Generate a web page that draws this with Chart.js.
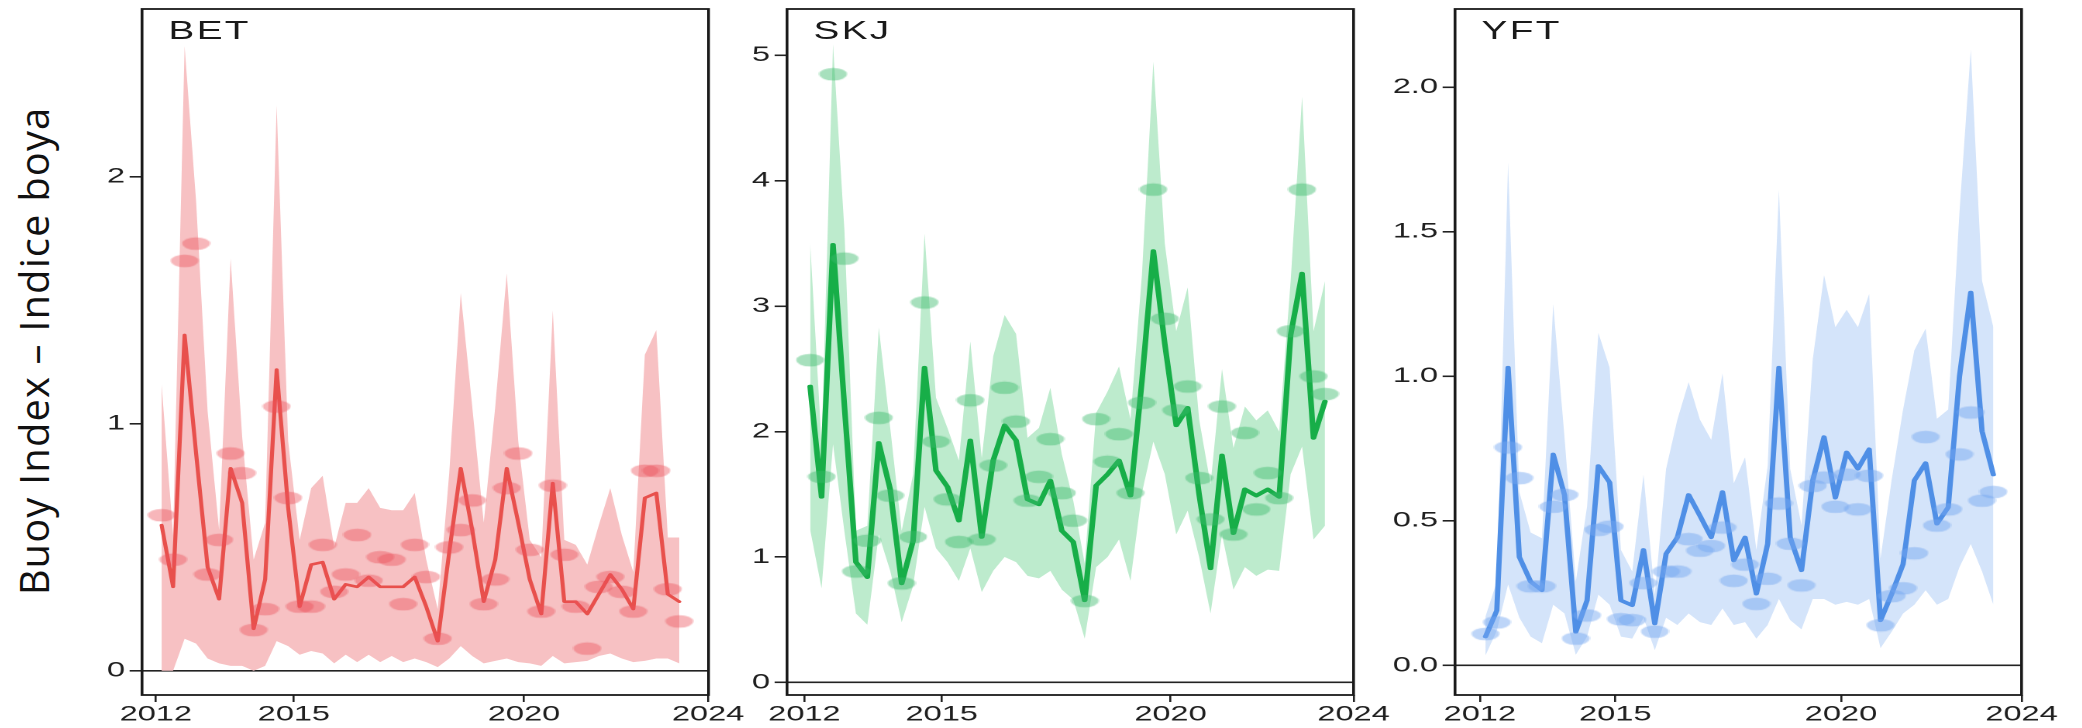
<!DOCTYPE html>
<html>
<head>
<meta charset="utf-8">
<script src="https://cdn.jsdelivr.net/npm/chart.js@4.4.1/dist/chart.umd.min.js"></script>
<style>
  html, body { margin: 0; padding: 0; background: #fff; }
  body { width: 2082px; height: 728px; position: relative; overflow: hidden; }
  .panel { position: absolute; top: 0; width: 440px; height: 728px; transform-origin: 0 0; transform: scaleX(1.55); }
  .panel canvas { position: absolute; left: 0; top: 0; }
  .tag { position: absolute; top: 18px; left: 65.5px; font: 25px "Liberation Sans", Arial, sans-serif; line-height: 25px; letter-spacing: 1.5px; color: #1a1a1a; }
  #ytitle { position: absolute; left: 33.5px; top: 350.5px; transform: translate(-50%, -50%) rotate(-90deg);
            font: 40px "Open Sans", sans-serif; line-height: 40px; letter-spacing: 1.1px; white-space: nowrap; color: #111; }
</style>
</head>
<body>
<div id="ytitle">Buoy Index – Indice boya</div>
<div class="panel" style="left:66.5px"><canvas id="bet" width="440" height="728"></canvas><div class="tag">BET</div></div>
<div class="panel" style="left:712px"><canvas id="skj" width="440" height="728"></canvas><div class="tag">SKJ</div></div>
<div class="panel" style="left:1380px"><canvas id="yft" width="440" height="728"></canvas><div class="tag">YFT</div></div>

<script>
// quarterly time steps
const quarters = [
  '2012 Q1','2012 Q2','2012 Q3','2012 Q4','2013 Q1','2013 Q2','2013 Q3','2013 Q4',
  '2014 Q1','2014 Q2','2014 Q3','2014 Q4','2015 Q1','2015 Q2','2015 Q3','2015 Q4',
  '2016 Q1','2016 Q2','2016 Q3','2016 Q4','2017 Q1','2017 Q2','2017 Q3','2017 Q4',
  '2018 Q1','2018 Q2','2018 Q3','2018 Q4','2019 Q1','2019 Q2','2019 Q3','2019 Q4',
  '2020 Q1','2020 Q2','2020 Q3','2020 Q4','2021 Q1','2021 Q2','2021 Q3','2021 Q4',
  '2022 Q1','2022 Q2','2022 Q3','2022 Q4','2023 Q1','2023 Q2'
];
const yearTicks = [2012, 2015, 2020, 2024];

// BET
const betEst = [0.59,0.34,1.36,0.88,0.42,0.29,0.82,0.68,0.17,0.37,1.22,0.66,0.26,0.43,0.44,0.29,0.35,0.34,0.38,0.34,0.34,0.34,0.38,0.26,0.12,0.48,0.82,0.57,0.28,0.45,0.82,0.60,0.37,0.23,0.76,0.28,0.28,0.23,0.31,0.39,0.33,0.25,0.70,0.72,0.31,0.28];
const betObs = [0.63,0.45,1.66,1.73,0.39,0.53,0.88,0.80,0.165,0.25,1.07,0.70,0.26,0.26,0.51,0.32,0.39,0.55,0.365,0.46,0.45,0.27,0.51,0.38,0.13,0.50,0.57,0.69,0.27,0.37,0.74,0.88,0.49,0.24,0.75,0.47,0.26,0.09,0.34,0.38,0.32,0.24,0.81,0.81,0.33,0.20];
const betHi  = [1.16,0.55,2.53,1.90,1.05,0.57,1.67,0.95,0.45,0.60,2.29,0.93,0.53,0.74,0.79,0.50,0.68,0.68,0.74,0.66,0.65,0.65,0.72,0.45,0.25,0.80,1.53,1.07,0.60,1.07,1.61,0.93,0.53,0.46,1.46,0.53,0.51,0.43,0.59,0.74,0.55,0.40,1.28,1.38,0.54,0.54];
const betLo  = [0.00,0.00,0.13,0.11,0.05,0.03,0.02,0.02,0.00,0.02,0.12,0.10,0.065,0.08,0.07,0.03,0.065,0.035,0.065,0.035,0.06,0.035,0.05,0.035,0.015,0.05,0.10,0.06,0.03,0.04,0.05,0.035,0.03,0.02,0.06,0.03,0.035,0.04,0.06,0.07,0.05,0.035,0.04,0.05,0.05,0.03];
const betTicks = [0, 1, 2];
const betLabels = ['0', '1', '2'];

// SKJ
const skjEst = [2.36,1.48,3.49,2.20,0.96,0.84,1.91,1.54,0.79,1.13,2.51,1.69,1.56,1.29,1.93,1.16,1.77,2.05,1.93,1.46,1.42,1.61,1.21,1.12,0.655,1.57,1.66,1.77,1.49,2.40,3.44,2.70,2.05,2.19,1.50,0.91,1.81,1.19,1.54,1.49,1.54,1.48,2.77,3.26,1.95,2.24];
const skjObs = [2.57,1.64,4.85,3.38,0.885,1.13,2.11,1.49,0.79,1.16,3.03,1.92,1.46,1.12,2.25,1.14,1.73,2.35,2.08,1.45,1.64,1.94,1.51,1.29,0.65,2.10,1.76,1.98,1.51,2.23,3.93,2.90,2.17,2.36,1.63,1.30,2.20,1.18,1.99,1.38,1.67,1.47,2.80,3.93,2.44,2.30];
const skjHi  = [3.51,1.90,5.09,3.60,1.21,1.25,2.83,2.03,1.21,1.66,3.58,2.27,2.03,1.77,2.72,1.79,2.60,2.93,2.78,1.95,2.03,2.35,1.82,1.45,0.95,2.15,2.32,2.52,2.10,3.25,4.95,3.50,2.80,3.15,2.10,1.58,2.50,1.87,2.20,2.09,2.17,2.00,3.20,4.67,2.80,3.20];
const skjLo  = [1.22,0.75,1.90,1.20,0.55,0.46,1.18,0.89,0.48,0.77,1.40,1.07,0.96,0.81,1.07,0.72,0.89,1.00,0.96,0.85,0.83,0.89,0.74,0.66,0.35,0.92,1.00,1.14,0.81,1.51,1.92,1.66,1.18,1.37,1.00,0.55,1.18,0.74,0.92,0.85,0.90,0.89,1.66,1.88,1.14,1.25];
const skjTicks = [0, 1, 2, 3, 4, 5];
const skjLabels = ['0', '1', '2', '3', '4', '5'];

// YFT
const yftEst = [0.10,0.19,1.03,0.375,0.29,0.26,0.73,0.59,0.116,0.225,0.69,0.633,0.225,0.208,0.40,0.145,0.386,0.443,0.59,0.518,0.443,0.60,0.363,0.443,0.248,0.42,1.03,0.443,0.329,0.64,0.79,0.58,0.737,0.68,0.748,0.156,0.248,0.35,0.64,0.70,0.49,0.547,1.00,1.29,0.81,0.66];
const yftObs = [0.109,0.149,0.754,0.648,0.274,0.274,0.549,0.59,0.093,0.173,0.469,0.48,0.16,0.157,0.285,0.117,0.325,0.325,0.437,0.397,0.413,0.477,0.293,0.349,0.213,0.30,0.56,0.421,0.277,0.621,0.65,0.549,0.66,0.54,0.656,0.139,0.24,0.267,0.388,0.79,0.484,0.54,0.73,0.875,0.57,0.60];
const yftHi  = [0.17,0.29,1.74,0.60,0.46,0.44,1.25,0.79,0.29,0.55,1.15,1.03,0.40,0.325,0.66,0.245,0.68,0.85,0.98,0.85,0.78,1.01,0.63,0.72,0.40,0.69,1.645,0.68,0.485,1.06,1.35,1.17,1.23,1.17,1.285,0.37,0.645,0.885,1.09,1.165,0.853,0.885,1.57,2.13,1.33,1.17];
const yftLo  = [0.035,0.12,0.28,0.165,0.10,0.077,0.21,0.18,0.037,0.10,0.245,0.21,0.10,0.093,0.165,0.053,0.165,0.14,0.18,0.15,0.14,0.197,0.14,0.15,0.093,0.14,0.23,0.157,0.125,0.23,0.23,0.21,0.22,0.21,0.23,0.06,0.117,0.18,0.21,0.26,0.21,0.23,0.34,0.42,0.325,0.21];
const yftTicks = [0, 0.5, 1, 1.5, 2];
const yftLabels = ['0.0', '0.5', '1.0', '1.5', '2.0'];

// '2014 Q3' -> 2014.625 (middle of the quarter)
const qTime = q => {
  const [y, p] = q.split(' Q');
  return Number(y) + (Number(p) - 0.5) / 4;
};
const times = quarters.map(qTime);
const pts = vals => vals.map((v, i) => ({ x: times[i], y: v }));

// flat ellipse used as the marker for observed values
function dotImage(color) {
  const c = document.createElement('canvas');
  c.width = 19; c.height = 14;
  const g = c.getContext('2d');
  g.fillStyle = color;
  g.beginPath();
  g.ellipse(9.5, 7, 9, 6.3, 0, 0, Math.PI * 2);
  g.fill();
  return c;
}

// box around the plotting region
const frame = {
  id: 'frame',
  afterDraw(chart) {
    const { ctx, chartArea: a } = chart;
    ctx.save();
    ctx.strokeStyle = '#1a1a1a';
    ctx.lineWidth = 1.8;
    ctx.strokeRect(a.left, a.top, a.right - a.left, a.bottom - a.top);
    ctx.restore();
  }
};

const tickFont = { family: '"Liberation Sans", Arial, sans-serif', size: 21 };

function makePanel(id, p) {
  new Chart(document.getElementById(id), {
    type: 'line',
    data: {
      datasets: [
        { label: 'observed', data: pts(p.obs), showLine: false, pointStyle: dotImage(p.dot),
          pointRadius: 8, pointHoverRadius: 8, borderColor: 'transparent', order: 0 },
        { label: 'estimate', data: pts(p.est), borderColor: p.line, borderWidth: p.lw,
          borderJoinStyle: 'round', borderCapStyle: 'round', pointRadius: 0, tension: 0, order: 1 },
        { label: 'upper', data: pts(p.hi), borderColor: 'transparent', borderWidth: 0,
          pointRadius: 0, tension: 0, fill: '+1', backgroundColor: p.band, order: 2 },
        { label: 'lower', data: pts(p.lo), borderColor: 'transparent', borderWidth: 0,
          pointRadius: 0, tension: 0, fill: false, order: 3 }
      ]
    },
    options: {
      responsive: false,
      devicePixelRatio: 2,
      animation: false,
      events: [],
      layout: { padding: { top: 7, right: 26.1, bottom: 0, left: 0 } },
      plugins: { legend: { display: false }, tooltip: { enabled: false } },
      scales: {
        x: {
          type: 'linear', min: p.xmin, max: p.xmax,
          afterBuildTicks: s => { s.ticks = yearTicks.map(v => ({ value: v })); },
          afterFit: s => { s.height = 33; s.paddingLeft = 0; s.paddingRight = 0; },
          border: { display: false },
          grid: { drawOnChartArea: false, tickLength: 7, tickColor: '#222', lineWidth: 1.3 },
          ticks: { autoSkip: false, maxRotation: 0, padding: 0, color: '#1f1f1f', font: tickFont,
                   callback: v => String(v) }
        },
        y: {
          min: p.ymin, max: p.ymax,
          afterBuildTicks: s => { s.ticks = p.yticks.map(v => ({ value: v })); },
          afterFit: s => { s.width = 48.4; s.paddingTop = 0; s.paddingBottom = 0; },
          border: { display: false },
          grid: {
            color: c => (c.tick && c.tick.value === 0) ? '#222' : 'rgba(0,0,0,0)',
            lineWidth: 1.6, tickLength: 8, tickColor: '#222'
          },
          ticks: { padding: 3, color: '#1f1f1f', font: tickFont,
                   callback: (v, i) => p.ylabels[i] }
        }
      }
    },
    plugins: [frame]
  });
}

makePanel('bet', {
  est: betEst, obs: betObs, hi: betHi, lo: betLo,
  yticks: betTicks, ylabels: betLabels, ymin: -0.098, ymax: 2.68,
  xmin: 2011.70, xmax: 2024.01,
  band: '#F7C1C3', line: '#E8504C', lw: 2.6, dot: 'rgba(236, 82, 90, 0.42)'
});
makePanel('skj', {
  est: skjEst, obs: skjObs, hi: skjHi, lo: skjLo,
  yticks: skjTicks, ylabels: skjLabels, ymin: -0.10, ymax: 5.37,
  xmin: 2011.62, xmax: 2024.0,
  band: '#BDEBCD', line: '#17AE48', lw: 3.6, dot: 'rgba(60, 186, 108, 0.45)'
});
makePanel('yft', {
  est: yftEst, obs: yftObs, hi: yftHi, lo: yftLo,
  yticks: yftTicks, ylabels: yftLabels, ymin: -0.102, ymax: 2.27,
  xmin: 2011.45, xmax: 2024.0,
  band: '#D4E4FA', line: '#4F8FE6', lw: 3.4, dot: 'rgba(118, 168, 240, 0.48)'
});
</script>
</body>
</html>
